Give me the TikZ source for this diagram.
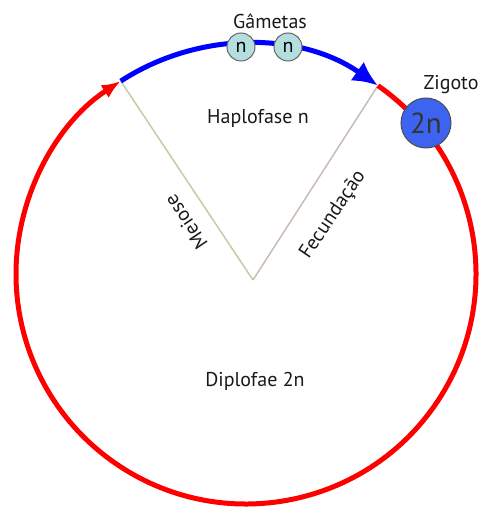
\documentclass[tikz,border=0pt]{standalone}
\usepackage{fontspec}
\setmainfont{PT Sans}
\usetikzlibrary{arrows.meta, calc, positioning}
\definecolor{cycred}{HTML}{FF0000}
\definecolor{cycblue}{HTML}{0000FF}
\definecolor{gamfill}{HTML}{B4DEE0}
\definecolor{zigfill}{HTML}{3C64F0}
\definecolor{meiline}{HTML}{C4CCA4}
\definecolor{fecline}{HTML}{C8BCB4}
\tikzset{
  cyclearc/.style={line width=5pt},
  spoke/.style={line width=1.5pt},
  phaselabel/.style={font=\fontsize{20}{22}\selectfont, text=black!90, inner sep=0pt},
  gamete/.style={circle, draw=black!60, fill=gamfill, line width=1pt, minimum size=28pt,
    inner sep=0pt, font=\fontsize{20}{22}\selectfont},
  zygote/.style={circle, draw=black!70, fill=zigfill, line width=1pt, minimum size=50pt,
    inner sep=0pt, text=black!80, font=\fontsize{29}{31}\selectfont},
}

\begin{document}
\begin{tikzpicture}[x=1pt, y=1pt]
  \useasboundingbox (0,0) rectangle (483,507);
  \coordinate (c) at (246,233);
  \coordinate (apex) at (253,227);
  \coordinate (mei) at ($(c)+(123:230)$);
  \coordinate (fec) at ($(c)+(55:230)$);
  \draw[spoke, meiline] (apex) -- (mei);
  \draw[spoke, fecline] (apex) -- (fec);
  \draw[cyclearc, cycred, -{Latex[length=19pt, width=15pt]}] (fec) arc[start angle=55, end angle=-237, radius=230];
  \draw[cyclearc, cycblue, -{Latex[length=25pt, width=23pt]}] (mei) arc[start angle=123, end angle=55, radius=230];
  \node[gamete] (g1) at (241,460) {n};
  \node[gamete] (g2) at (288,460) {n};
  \node[phaselabel] (gam) at (270,486) {Gâmetas};
  \node[zygote] (zig) at (426,384) {2n};
  \node[phaselabel] (ziglbl) at (451,422) {Zigoto};
  \node[phaselabel] (haplo) at (258,389) {Haplofase n};
  \node[phaselabel] (diplo) at (255,126) {Diplofae 2n};
  \node[phaselabel, rotate=124] (meiose) at (186,285) {Meiose};
  \node[phaselabel, rotate=56] (fecund) at (333,292) {Fecundação};
\end{tikzpicture}
\end{document}
